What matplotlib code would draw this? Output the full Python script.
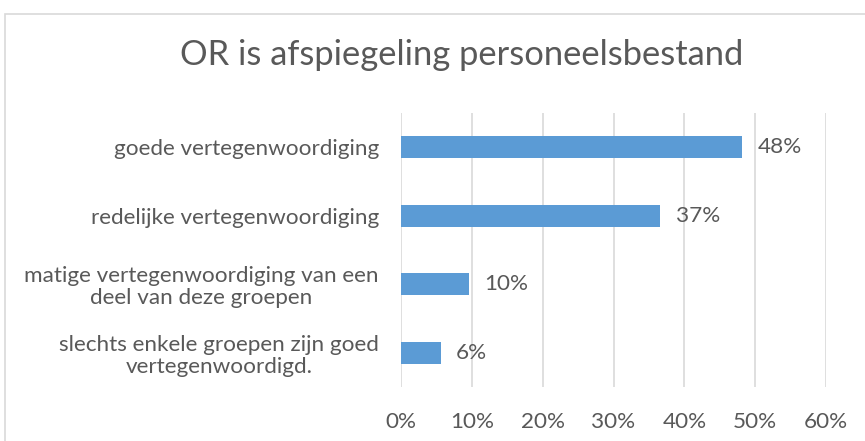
import matplotlib
matplotlib.use("Agg")
import matplotlib.pyplot as plt
from matplotlib.patches import Rectangle
from matplotlib.ticker import PercentFormatter

title = "OR is afspiegeling personeelsbestand"
categories = [
    "goede vertegenwoordiging",
    "redelijke vertegenwoordiging",
    "matige vertegenwoordiging van een\ndeel van deze groepen",
    "slechts enkele groepen zijn goed\nvertegenwoordigd.",
]
values = [0.482, 0.366, 0.096, 0.056]
xticks = [0, 0.1, 0.2, 0.3, 0.4, 0.5, 0.6]

FONT = "Lato"
TEXT = "#595959"
GRID = "#D9D9D9"
BAR = "#5B9BD5"

plt.rcParams["font.family"] = [FONT, "DejaVu Sans"]

W, H = 865, 441
fig = plt.figure(figsize=(W / 100, H / 100), dpi=100)
ax = fig.add_axes([401 / W, 1 - 387 / H, (826 - 401) / W, (387 - 113) / H])

ypos = list(range(len(categories)))
bars = ax.barh(ypos, values, height=0.317, color=BAR, zorder=3)
ax.set_ylim(len(categories) - 0.5, -0.5)
ax.set_xlim(0, 0.6)
ax.set_xticks(xticks)
ax.xaxis.set_major_formatter(PercentFormatter(1.0, decimals=0))
ax.set_yticks(ypos)
ax.set_yticklabels(categories, multialignment="center", linespacing=1.12)

ax.grid(axis="x", color=GRID, linewidth=1.2, zorder=0)
for s in ax.spines.values():
    s.set_visible(False)
ax.tick_params(axis="both", length=0, colors=TEXT, labelsize=16.2)
ax.tick_params(axis="y", pad=16)
ax.tick_params(axis="x", pad=18)
for lab in ax.get_xticklabels() + ax.get_yticklabels():
    lab.set_color(TEXT)

ax.bar_label(bars, labels=[f"{v*100:.0f}%" for v in values], padding=11,
             color=TEXT, fontsize=16.2)

fig.text(462 / W, 1 - 55 / H, title, ha="center", va="center",
         color=TEXT, fontsize=24.8)

border = Rectangle((5 / W, -0.1), 1.2, (H - 14) / H + 0.1, transform=fig.transFigure,
                   fill=False, edgecolor=GRID, linewidth=1.2)
fig.patches.append(border)

fig.savefig("out.png", dpi=100, facecolor="white")
